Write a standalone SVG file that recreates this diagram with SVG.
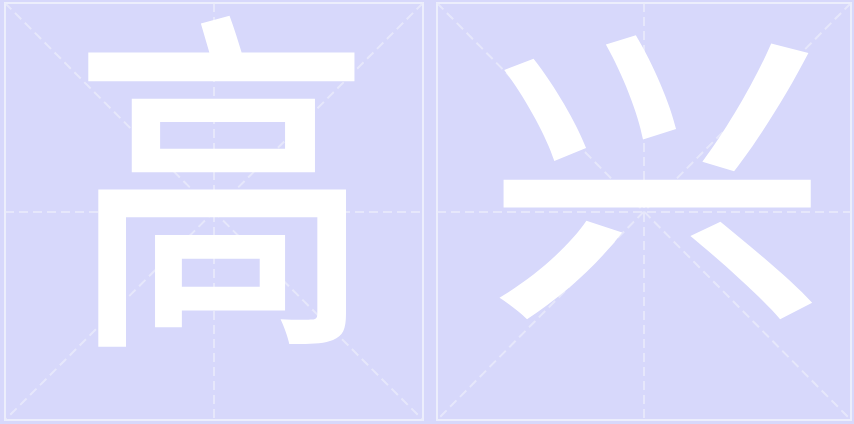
<svg xmlns="http://www.w3.org/2000/svg" width="854" height="424" viewBox="0 0 854 424">
<style>
.box{fill:#d7d8fb;stroke:#eceefc;stroke-width:2}
.guide{stroke:#ebecfb;stroke-width:2;stroke-dasharray:9 5;fill:none;opacity:0.75}
.ch{font-family:"Noto Sans CJK SC","Noto Sans CJK JP",sans-serif;fill:#ffffff;text-anchor:middle;font-weight:500}
</style>
<rect width="854" height="424" fill="#d7d8fb"/>
<g id="box-gao">
<rect class="box" x="5" y="3" width="418" height="417"/>
<path class="guide" d="M5 212H423M214 3V420M5 3L423 420M423 3L5 420"/>
<text class="ch" transform="translate(222 317) scale(0.85 1)" x="0" y="0" font-size="355">高</text>
</g>
<g id="box-xing">
<rect class="box" x="437" y="3" width="414" height="417"/>
<path class="guide" d="M437 212H851M644 3V420M437 3L851 420M851 3L437 420"/>
<text class="ch" transform="translate(657 294) scale(1.1 1)" x="0" y="0" font-size="310">兴</text>
</g>
<g id="connectors"/>
</svg>
